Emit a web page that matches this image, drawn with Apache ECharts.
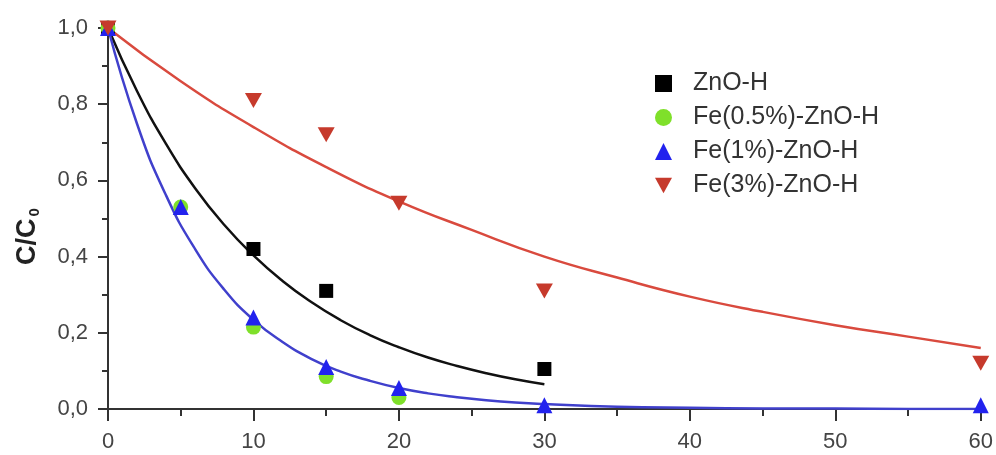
<!DOCTYPE html>
<html><head><meta charset="utf-8">
<script src="https://cdn.jsdelivr.net/npm/echarts@6/dist/echarts.min.js"></script>
<style>html,body{margin:0;padding:0;background:#fff}#c{width:996px;height:455px}</style>
</head><body><div id="c"></div>
<script>
// Measured points
const znoX = [0, 10, 15, 30];
const znoY = [1.0, 0.42, 0.31, 0.105];
const fe05X = [0, 5, 10, 15, 20];
const fe05Y = [1.0, 0.53, 0.215, 0.085, 0.03];
const fe1X = [0, 5, 10, 15, 20, 30, 60];
const fe1Y = [1.0, 0.53, 0.24, 0.11, 0.055, 0.01, 0.01];
const fe3X = [0, 10, 15, 20, 30, 60];
const fe3Y = [1.0, 0.81, 0.72, 0.54, 0.31, 0.12];
// Fitted curves
const fitZnoX = [0, 2, 4, 6, 8, 10, 12, 14, 16, 18, 20, 22, 24, 26, 28, 30];
const fitZnoY = [1.0, 0.834, 0.695, 0.579, 0.483, 0.403, 0.336, 0.28, 0.233, 0.194, 0.162, 0.135, 0.113, 0.094, 0.078, 0.065];
const fitFe1X = [0, 2, 4, 6, 8, 10, 12, 14, 16, 18, 20, 22, 24, 26, 28, 30, 35, 40, 45, 50, 55, 60];
const fitFe1Y = [1.0, 0.748, 0.56, 0.419, 0.313, 0.234, 0.176, 0.131, 0.098, 0.074, 0.055, 0.041, 0.031, 0.023, 0.017, 0.013, 0.006, 0.003, 0.0015, 0.001, 0.0, 0.0];
const fitFe3X = [0, 5, 10, 15, 20, 25, 30, 35, 40, 45, 50, 55, 60];
const fitFe3Y = [1.0, 0.86, 0.74, 0.635, 0.545, 0.47, 0.40, 0.345, 0.295, 0.255, 0.22, 0.19, 0.16];
const names = ['ZnO-H', 'Fe(0.5%)-ZnO-H', 'Fe(1%)-ZnO-H', 'Fe(3%)-ZnO-H'];

const zip = (xs, ys) => xs.map((x, i) => [x, ys[i]]);
const downTri = 'path://M0,0 L10,0 L5,9 Z';
const font = 'Liberation Sans, Arial, sans-serif';
const axisColor = '#333';

const chart = echarts.init(document.getElementById('c'));
chart.setOption({
  animation: false,
  grid: { left: 108, right: 11, top: 28, bottom: 46 },
  legend: {
    left: 650, top: 66, orient: 'vertical', itemGap: 9,
    itemWidth: 17, itemHeight: 17,
    textStyle: { fontFamily: font, fontSize: 25, color: '#333', padding: [0, 0, 0, 16] },
    data: [
      { name: names[0], icon: 'rect' },
      { name: names[1], icon: 'circle' },
      { name: names[2], icon: 'triangle' },
      { name: names[3], icon: downTri }
    ]
  },
  xAxis: [{
    type: 'value', min: 0, max: 60, interval: 10,
    axisLine: { show: true, onZero: false, lineStyle: { color: axisColor, width: 2 } },
    axisTick: { show: true, length: 12, lineStyle: { color: axisColor, width: 2 } },
    splitLine: { show: false },
    axisLabel: { fontFamily: font, fontSize: 22, color: '#444', margin: 22 }
  }, {
    type: 'value', min: 0, max: 60, interval: 5, position: 'bottom',
    axisLine: { show: false, onZero: false },
    axisTick: { show: true, length: 7, lineStyle: { color: axisColor, width: 2 } },
    splitLine: { show: false },
    axisLabel: { show: false }
  }],
  yAxis: [{
    type: 'value', min: 0, max: 1.0, interval: 0.2,
    axisLine: { show: true, lineStyle: { color: axisColor, width: 2 } },
    axisTick: { show: true, length: 10, lineStyle: { color: axisColor, width: 2 } },
    splitLine: { show: false },
    axisLabel: { fontFamily: font, fontSize: 22, color: '#444', margin: 20,
      formatter: v => v.toFixed(1).replace('.', ',') },
    name: '{m|C/C}{s|0}', nameLocation: 'middle', nameGap: 66, nameRotate: 90,
    nameTextStyle: { padding: [0, 36, 0, 0], rich: {
      m: { fontFamily: font, fontSize: 27, fontWeight: 'bold', color: '#222' },
      s: { fontFamily: font, fontSize: 15, fontWeight: 'bold', color: '#222', verticalAlign: 'bottom', padding: [14, 0, 0, 2] }
    } }
  }, {
    type: 'value', min: 0, max: 1.0, interval: 0.1, position: 'left',
    axisLine: { show: false },
    axisTick: { show: true, length: 6, lineStyle: { color: axisColor, width: 2 } },
    splitLine: { show: false },
    axisLabel: { show: false }
  }],
  series: [
    { type: 'line', data: zip(fitFe3X, fitFe3Y), smooth: true, symbol: 'none', lineStyle: { color: '#d94a3e', width: 2.5 }, z: 1, silent: true },
    { type: 'line', data: zip(fitZnoX, fitZnoY), smooth: true, symbol: 'none', lineStyle: { color: '#111', width: 2.5 }, z: 1, silent: true },
    { type: 'line', data: zip(fitFe1X, fitFe1Y), smooth: true, symbol: 'none', lineStyle: { color: '#4040cc', width: 2.5 }, z: 1, silent: true },
    { name: names[0], type: 'scatter', data: zip(znoX, znoY), symbol: 'rect', symbolSize: 14, itemStyle: { color: '#000', opacity: 1 }, z: 3 },
    { name: names[1], type: 'scatter', data: zip(fe05X, fe05Y), symbol: 'circle', symbolSize: 15, itemStyle: { color: '#7fe02a', opacity: 1 }, z: 3 },
    { name: names[2], type: 'scatter', data: zip(fe1X, fe1Y), symbol: 'triangle', symbolSize: 16, itemStyle: { color: '#2222ee', opacity: 1 }, z: 4 },
    { name: names[3], type: 'scatter', data: zip(fe3X, fe3Y), symbol: downTri, symbolSize: [17, 15], itemStyle: { color: '#c63a2c', opacity: 1 }, z: 4 }
  ]
});
</script></body></html>
